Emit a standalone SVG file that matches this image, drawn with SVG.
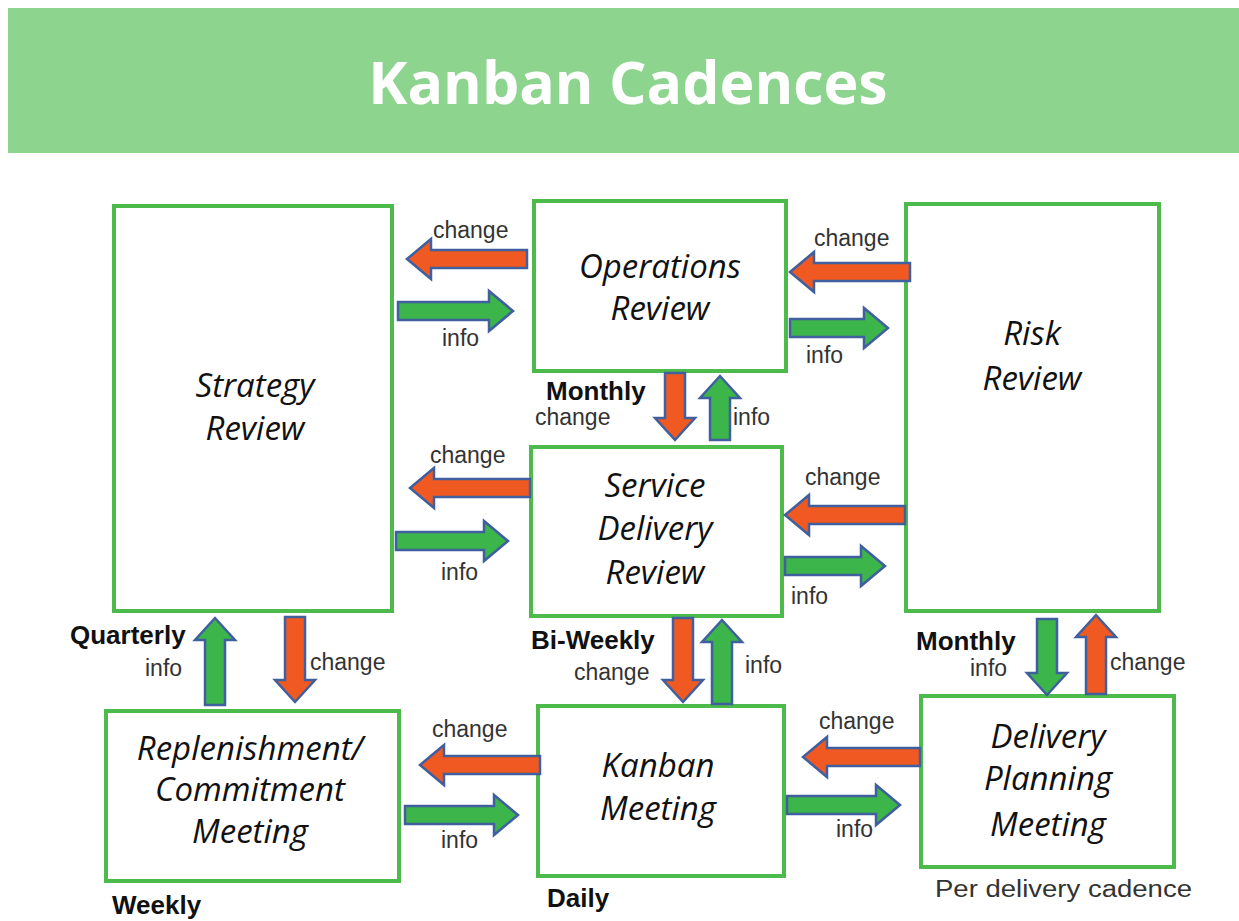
<svg xmlns="http://www.w3.org/2000/svg" width="1239" height="921" viewBox="0 0 1239 921">
<style>
.box{fill:#fff;stroke:#4cbb4c;stroke-width:4}
.nt{font-family:"Open Sans","Liberation Sans",sans-serif;font-style:italic;font-size:33px;fill:#111;text-anchor:middle}
.lb{font-family:"Liberation Sans",Arial,sans-serif;font-size:23px;fill:#333}
.bd{font-family:"Liberation Sans",Arial,sans-serif;font-size:26px;font-weight:bold;fill:#111}
.ch{fill:#f05a22;stroke:#3f5f9f;stroke-width:2.5;stroke-linejoin:miter}
.in{fill:#3cb54a;stroke:#3f5f9f;stroke-width:2.5;stroke-linejoin:miter}
</style>
<rect x="0" y="0" width="1239" height="921" fill="#fff"/>
<g id="title">
<rect x="8" y="8" width="1231" height="145" fill="#8dd48f"/>
<text x="628" y="104" font-family="Open Sans, Liberation Sans, sans-serif" font-weight="700" font-size="59" fill="#fff" text-anchor="middle">Kanban Cadences</text>
</g>
<g id="strategy"><rect class="box" x="114" y="206" width="278" height="405"/><text class="nt" x="255" y="397">Strategy</text><text class="nt" x="255" y="440">Review</text></g>
<g id="operations"><rect class="box" x="534" y="201" width="252" height="170"/><text class="nt" x="660" y="278">Operations</text><text class="nt" x="660" y="320">Review</text></g>
<g id="risk"><rect class="box" x="906" y="204" width="253" height="407"/><text class="nt" x="1032" y="345">Risk</text><text class="nt" x="1032" y="390">Review</text></g>
<g id="service"><rect class="box" x="531" y="447" width="251" height="169"/><text class="nt" x="655" y="497">Service</text><text class="nt" x="655" y="540">Delivery</text><text class="nt" x="655" y="584">Review</text></g>
<g id="replenishment"><rect class="box" x="106" y="711" width="293" height="170"/><text class="nt" x="250" y="760" font-size="32">Replenishment/</text><text class="nt" x="250" y="801" font-size="32">Commitment</text><text class="nt" x="250" y="843" font-size="32">Meeting</text></g>
<g id="kanban"><rect class="box" x="538" y="706" width="246" height="170"/><text class="nt" x="658" y="777">Kanban</text><text class="nt" x="658" y="820">Meeting</text></g>
<g id="delivery"><rect class="box" x="921" y="696" width="253" height="171"/><text class="nt" x="1048" y="748">Delivery</text><text class="nt" x="1048" y="790">Planning</text><text class="nt" x="1048" y="836">Meeting</text></g>
<g id="connectors">
<polygon class="ch" points="527,250 431,250 431,239 407,259 431,279 431,268 527,268"/>
<polygon class="in" points="398,302 489,302 489,291 513,311 489,331 489,320 398,320"/>
<polygon class="ch" points="910,263 814,263 814,252 790,272 814,292 814,281 910,281"/>
<polygon class="in" points="790,319 864,319 864,308 888,328 864,348 864,337 790,337"/>
<polygon class="ch" points="530,479 434,479 434,468 410,488 434,508 434,497 530,497"/>
<polygon class="in" points="396,532 484,532 484,521 508,541 484,561 484,550 396,550"/>
<polygon class="ch" points="905,506 809,506 809,495 785,515 809,535 809,524 905,524"/>
<polygon class="in" points="785,557 861,557 861,546 885,566 861,586 861,575 785,575"/>
<polygon class="ch" points="540,756 444,756 444,745 420,765 444,785 444,774 540,774"/>
<polygon class="in" points="405,806 494,806 494,795 518,815 494,835 494,824 405,824"/>
<polygon class="ch" points="920,748 827,748 827,737 803,757 827,777 827,766 920,766"/>
<polygon class="in" points="787,796 876,796 876,785 900,805 876,825 876,814 787,814"/>
<polygon class="ch" points="665,373 685,373 685,418 695,418 675,440 655,418 665,418"/>
<polygon class="in" points="710,440 730,440 730,398 740,398 720,376 700,398 710,398"/>
<polygon class="in" points="205,705 225,705 225,640 235,640 215,618 195,640 205,640"/>
<polygon class="ch" points="285,617 305,617 305,680 315,680 295,702 275,680 285,680"/>
<polygon class="ch" points="673,618 693,618 693,680 703,680 683,702 663,680 673,680"/>
<polygon class="in" points="712,704 732,704 732,642 742,642 722,620 702,642 712,642"/>
<polygon class="in" points="1037,619 1057,619 1057,673 1067,673 1047,695 1027,673 1037,673"/>
<polygon class="ch" points="1086,694 1106,694 1106,637 1116,637 1096,615 1076,637 1086,637"/>
</g>
<g id="labels">
<text class="lb" x="433" y="238">change</text>
<text class="lb" x="442" y="346">info</text>
<text class="lb" x="814" y="246">change</text>
<text class="lb" x="806" y="363">info</text>
<text class="lb" x="430" y="463">change</text>
<text class="lb" x="441" y="580">info</text>
<text class="lb" x="805" y="485">change</text>
<text class="lb" x="791" y="604">info</text>
<text class="lb" x="432" y="737">change</text>
<text class="lb" x="441" y="848">info</text>
<text class="lb" x="819" y="729">change</text>
<text class="lb" x="836" y="837">info</text>
<text class="bd" x="546" y="400">Monthly</text>
<text class="lb" x="535" y="425">change</text>
<text class="lb" x="733" y="425">info</text>
<text class="bd" x="70" y="644">Quarterly</text>
<text class="lb" x="145" y="676">info</text>
<text class="lb" x="310" y="670">change</text>
<text class="bd" x="531" y="649">Bi-Weekly</text>
<text class="lb" x="574" y="680">change</text>
<text class="lb" x="745" y="673">info</text>
<text class="bd" x="916" y="650">Monthly</text>
<text class="lb" x="970" y="676">info</text>
<text class="lb" x="1110" y="670">change</text>
<text class="bd" x="112" y="914">Weekly</text>
<text class="bd" x="547" y="907">Daily</text>
<text class="lb" x="935" y="897" font-size="26" textLength="257" lengthAdjust="spacingAndGlyphs">Per delivery cadence</text>
</g>
</svg>
